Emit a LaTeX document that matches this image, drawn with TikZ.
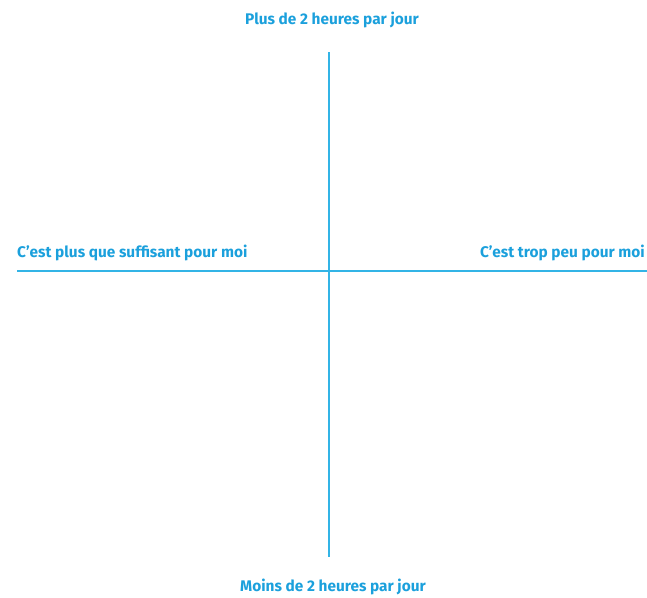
\documentclass[tikz,border=0pt]{standalone}
\usepackage{fontspec}
\setmainfont{Fira Sans}
\definecolor{txtblue}{HTML}{1BA0DC}
\definecolor{lineblue}{HTML}{33B4E6}
\begin{document}
\begin{tikzpicture}[x=1pt,y=-1pt,
  lbl/.style={text=txtblue,font=\fontsize{15.4}{17}\selectfont\bfseries,inner sep=0pt},
  axis/.style={draw=lineblue,line width=1.4pt}]
\useasboundingbox (0,0) rectangle (647,597);
\coordinate (vt) at (329,52);
\coordinate (vb) at (329,557);
\coordinate (hl) at (17,271);
\coordinate (hr) at (647,271);
\draw[axis] (vt) -- (vb);
\draw[axis] (hl) -- (hr);
\node[lbl] (top) at (332,20) {Plus de 2 heures par jour};
\node[lbl] (bot) at (333,587) {Moins de 2 heures par jour};
\node[lbl,anchor=west] (left) at (17,253) {C’est plus que suffisant pour moi};
\node[lbl,anchor=east] (right) at (645,253) {C’est trop peu pour moi};
\end{tikzpicture}
\end{document}
